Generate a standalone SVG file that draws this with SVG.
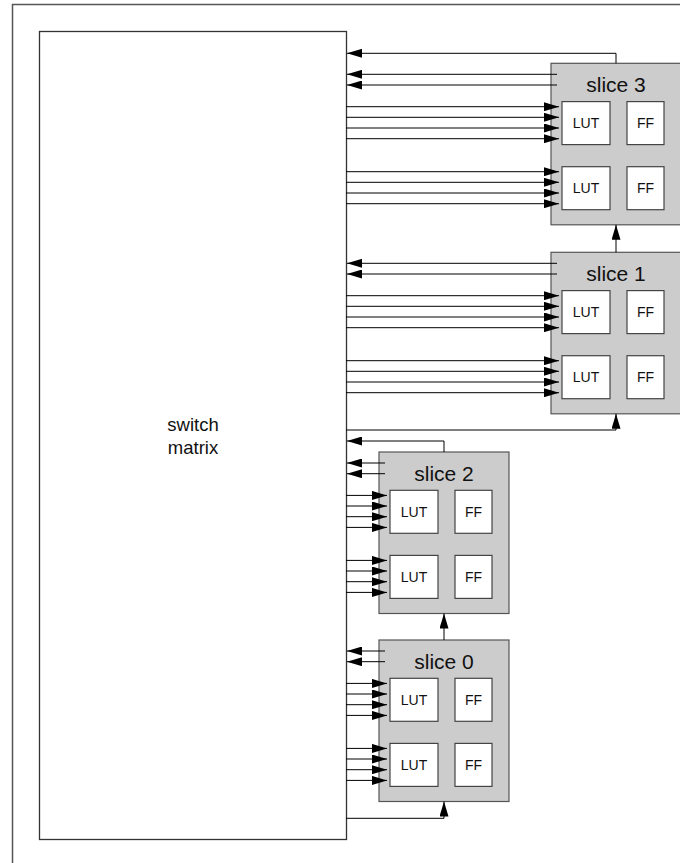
<svg xmlns="http://www.w3.org/2000/svg" width="680" height="863" viewBox="0 0 680 863">
<style>
.frame{fill:#fff;stroke:#555;stroke-width:1.5}
.sm{fill:#fff;stroke:#333;stroke-width:1.3}
.slice{fill:#cccccc;stroke:#555;stroke-width:1.2}
.cell{fill:#fff;stroke:#444;stroke-width:1.2}
.t{font-family:"Liberation Sans",Arial,sans-serif;fill:#111;text-anchor:middle}
.big{font-size:21px}
.mid{font-size:18.5px}
.small{font-size:14px}
.w{fill:none;stroke:#000;stroke-width:1;marker-end:url(#ah)}
</style>
<defs>
<marker id="ah" markerUnits="userSpaceOnUse" markerWidth="15" markerHeight="9" refX="15" refY="4.5" orient="auto">
<path d="M0,0 L15,4.5 L0,9 z" fill="#000"/>
</marker>
</defs>
<rect class="frame" x="12.5" y="4.5" width="700" height="900"/>
<g id="switch-matrix">
<rect class="sm" x="39.5" y="31.5" width="307" height="808"/>
<text class="t mid" x="193" y="431">switch</text>
<text class="t mid" x="193" y="454">matrix</text>
</g>
<g id="slice3">
<rect class="slice" x="551" y="63.3" width="130" height="161.5"/>
<text class="t big" x="616" y="91.8">slice 3</text>
<rect class="cell" x="562" y="101.6" width="48" height="43"/>
<text class="t small" x="586" y="128">LUT</text>
<rect class="cell" x="627" y="101.6" width="37" height="43"/>
<text class="t small" x="645.5" y="128">FF</text>
<rect class="cell" x="562" y="166.7" width="48" height="43"/>
<text class="t small" x="586" y="193">LUT</text>
<rect class="cell" x="627" y="166.7" width="37" height="43"/>
<text class="t small" x="645.5" y="193">FF</text>
</g>
<g id="slice1">
<rect class="slice" x="551" y="252.3" width="130" height="161.5"/>
<text class="t big" x="616" y="280.8">slice 1</text>
<rect class="cell" x="562" y="290.6" width="48" height="43"/>
<text class="t small" x="586" y="317">LUT</text>
<rect class="cell" x="627" y="290.6" width="37" height="43"/>
<text class="t small" x="645.5" y="317">FF</text>
<rect class="cell" x="562" y="355.7" width="48" height="43"/>
<text class="t small" x="586" y="382">LUT</text>
<rect class="cell" x="627" y="355.7" width="37" height="43"/>
<text class="t small" x="645.5" y="382">FF</text>
</g>
<g id="slice2">
<rect class="slice" x="379" y="452" width="130" height="161.5"/>
<text class="t big" x="444" y="480.5">slice 2</text>
<rect class="cell" x="390" y="490.3" width="48" height="43"/>
<text class="t small" x="414" y="516.7">LUT</text>
<rect class="cell" x="455" y="490.3" width="37" height="43"/>
<text class="t small" x="473.5" y="516.7">FF</text>
<rect class="cell" x="390" y="555.4" width="48" height="43"/>
<text class="t small" x="414" y="581.8">LUT</text>
<rect class="cell" x="455" y="555.4" width="37" height="43"/>
<text class="t small" x="473.5" y="581.8">FF</text>
</g>
<g id="slice0">
<rect class="slice" x="379" y="640" width="130" height="161.5"/>
<text class="t big" x="444" y="668.5">slice 0</text>
<rect class="cell" x="390" y="678.3" width="48" height="43"/>
<text class="t small" x="414" y="704.7">LUT</text>
<rect class="cell" x="455" y="678.3" width="37" height="43"/>
<text class="t small" x="473.5" y="704.7">FF</text>
<rect class="cell" x="390" y="743.4" width="48" height="43"/>
<text class="t small" x="414" y="769.8">LUT</text>
<rect class="cell" x="455" y="743.4" width="37" height="43"/>
<text class="t small" x="473.5" y="769.8">FF</text>
</g>
<g id="connectors">
<!-- slice 3 -->
<path class="w" d="M616,63.3 V53.3 H347"/>
<path class="w" d="M557,74.3 H347"/>
<path class="w" d="M557,85 H347"/>
<path class="w" d="M346,106.7 H559"/>
<path class="w" d="M346,117.3 H559"/>
<path class="w" d="M346,128 H559"/>
<path class="w" d="M346,138.7 H559"/>
<path class="w" d="M346,171.7 H559"/>
<path class="w" d="M346,182.3 H559"/>
<path class="w" d="M346,193 H559"/>
<path class="w" d="M346,203.7 H559"/>
<!-- slice 1 -> slice 3 -->
<path class="w" d="M616,252.3 V224.8"/>
<!-- slice 1 -->
<path class="w" d="M557,263.3 H347"/>
<path class="w" d="M557,274 H347"/>
<path class="w" d="M346,295.7 H559"/>
<path class="w" d="M346,306.3 H559"/>
<path class="w" d="M346,317 H559"/>
<path class="w" d="M346,327.7 H559"/>
<path class="w" d="M346,360.7 H559"/>
<path class="w" d="M346,371.3 H559"/>
<path class="w" d="M346,382 H559"/>
<path class="w" d="M346,392.7 H559"/>
<path class="w" d="M346,430 H616 V413.8"/>
<!-- slice 2 -->
<path class="w" d="M444,452 V441 H347"/>
<path class="w" d="M385,463 H347"/>
<path class="w" d="M385,473.7 H347"/>
<path class="w" d="M346,495.4 H387"/>
<path class="w" d="M346,506 H387"/>
<path class="w" d="M346,516.7 H387"/>
<path class="w" d="M346,527.4 H387"/>
<path class="w" d="M346,560.4 H387"/>
<path class="w" d="M346,571 H387"/>
<path class="w" d="M346,581.7 H387"/>
<path class="w" d="M346,592.4 H387"/>
<!-- slice 0 -> slice 2 -->
<path class="w" d="M444,640 V613.5"/>
<!-- slice 0 -->
<path class="w" d="M385,651 H347"/>
<path class="w" d="M385,661.7 H347"/>
<path class="w" d="M346,683.4 H387"/>
<path class="w" d="M346,694 H387"/>
<path class="w" d="M346,704.7 H387"/>
<path class="w" d="M346,715.4 H387"/>
<path class="w" d="M346,748.4 H387"/>
<path class="w" d="M346,759 H387"/>
<path class="w" d="M346,769.7 H387"/>
<path class="w" d="M346,780.4 H387"/>
<path class="w" d="M346,818.3 H444 V801.5"/>
</g>
</svg>
